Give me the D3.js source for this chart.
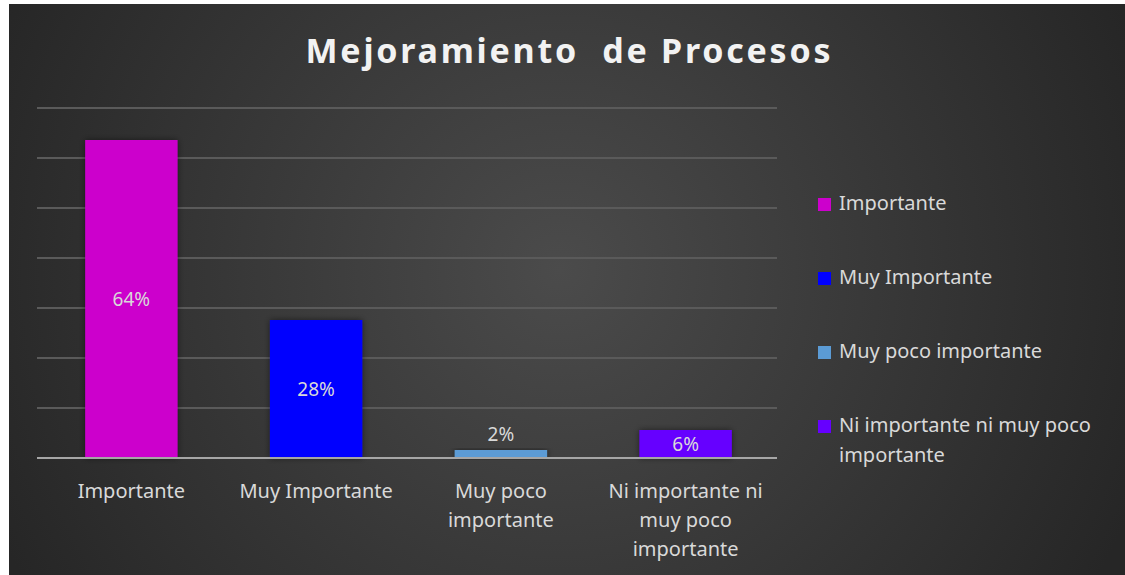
<!DOCTYPE html>
<meta charset="utf-8">
<style>
body { margin: 0; background: #fff; }
text { font-family: "Noto Sans", "Open Sans", sans-serif; }
</style>
<body>
<script src="https://d3js.org/d3.v7.min.js"></script>
<script>

var categories = ["Importante", "Muy Importante", "Muy poco importante", "Ni importante ni muy poco importante"];
var values = [63.6, 27.6, 1.6, 5.6];
var colors = ["#cc00cc", "#0000ff", "#5b9bd5", "#6600ff"];
var yTicks = [0, 10, 20, 30, 40, 50, 60, 70];
var title = "Mejoramiento  de Procesos";

var W = 1125, H = 575;
var plot = { left: 37, right: 777, top: 108, bottom: 458 };

var svg = d3.select("body").append("svg")
  .attr("width", W)
  .attr("height", H);

var defs = svg.append("defs");
var grad = defs.append("radialGradient")
  .attr("id", "bg")
  .attr("gradientUnits", "userSpaceOnUse")
  .attr("cx", 560).attr("cy", 270).attr("r", 620);
grad.append("stop").attr("offset", "0%").attr("stop-color", "#4b4b4b");
grad.append("stop").attr("offset", "100%").attr("stop-color", "#262626");

var shadow = defs.append("filter").attr("id", "shadow")
  .attr("x", "-20%").attr("y", "-20%").attr("width", "140%").attr("height", "140%");
shadow.append("feDropShadow")
  .attr("dx", 0).attr("dy", 0).attr("stdDeviation", 3)
  .attr("flood-color", "#000").attr("flood-opacity", 0.5);

// chart area background
svg.append("rect")
  .attr("x", 9).attr("y", 4)
  .attr("width", W - 9).attr("height", H - 4)
  .attr("fill", "url(#bg)");

// title (double space kept)
svg.append("text")
  .attr("x", 568)
  .attr("y", 63)
  .attr("text-anchor", "middle")
  .attr("fill", "#f2f2f2")
  .style("font-size", "34px")
  .style("font-weight", "bold")
  .style("white-space", "pre")
  .attr("textLength", 525)
  .attr("lengthAdjust", "spacing")
  .text(title);

var x = d3.scaleBand()
  .domain(categories)
  .range([plot.left + 2, plot.right + 1])
  .paddingInner(0.5)
  .paddingOuter(0.25);

var y = d3.scaleLinear()
  .domain([0, 70])
  .range([plot.bottom, plot.top]);

// gridlines
svg.append("g")
  .selectAll("line")
  .data(yTicks.slice(1))
  .enter().append("line")
  .attr("x1", plot.left).attr("x2", plot.right)
  .attr("y1", function(d) { return y(d); })
  .attr("y2", function(d) { return y(d); })
  .attr("stroke", "#5a5a5a")
  .attr("stroke-width", 2);

// bars
svg.append("g")
  .selectAll("rect")
  .data(values)
  .enter().append("rect")
  .attr("x", function(d, i) { return x(categories[i]); })
  .attr("y", function(d) { return y(d); })
  .attr("width", x.bandwidth())
  .attr("height", function(d) { return y(0) - y(d); })
  .attr("fill", function(d, i) { return colors[i]; })
  .attr("filter", "url(#shadow)");

// baseline
svg.append("line")
  .attr("x1", plot.left).attr("x2", plot.right)
  .attr("y1", y(0)).attr("y2", y(0))
  .attr("stroke", "#a6a6a6")
  .attr("stroke-width", 2);

// data labels
svg.append("g")
  .selectAll("text")
  .data(values)
  .enter().append("text")
  .attr("x", function(d, i) { return x(categories[i]) + x.bandwidth() / 2; })
  .attr("y", function(d) {
    var h = y(0) - y(d);
    return h < 20 ? y(d) - 9 : (y(d) + y(0)) / 2 + 7;
  })
  .attr("text-anchor", "middle")
  .attr("fill", "#d9d9d9")
  .style("font-size", "19px")
  .text(function(d) { return Math.round(d) + "%"; });

// wrap words greedily into lines not wider than maxW
function wrap(sel, maxW, lineH) {
  sel.each(function() {
    var t = d3.select(this);
    var words = t.text().split(" ");
    var xx = t.attr("x");
    t.text(null);
    var line = [], tspan = t.append("tspan").attr("x", xx).attr("dy", 0);
    words.forEach(function(w) {
      line.push(w);
      tspan.text(line.join(" "));
      if (tspan.node().getComputedTextLength() > maxW && line.length > 1) {
        line.pop();
        tspan.text(line.join(" "));
        line = [w];
        tspan = t.append("tspan").attr("x", xx).attr("dy", lineH).text(w);
      }
    });
  });
}

// category labels
svg.append("g")
  .selectAll("text")
  .data(categories)
  .enter().append("text")
  .attr("x", function(d) { return x(d) + x.bandwidth() / 2; })
  .attr("y", 498)
  .attr("text-anchor", "middle")
  .attr("fill", "#d9d9d9")
  .style("font-size", "20px")
  .text(function(d) { return d; })
  .call(wrap, 172, 29);

// legend
var ly = d3.scalePoint()
  .domain(categories)
  .range([203, 425]);

var legend = svg.append("g")
  .selectAll("g")
  .data(categories)
  .enter().append("g")
  .attr("transform", function(d) { return "translate(818," + ly(d) + ")"; });

legend.append("rect")
  .attr("x", 0).attr("y", -5)
  .attr("width", 13).attr("height", 13)
  .attr("fill", function(d, i) { return colors[i]; });

legend.append("text")
  .attr("x", 21)
  .attr("y", 7)
  .attr("fill", "#d9d9d9")
  .style("font-size", "20px")
  .text(function(d) { return d; })
  .call(wrap, 275, 30);

</script>
</body>
